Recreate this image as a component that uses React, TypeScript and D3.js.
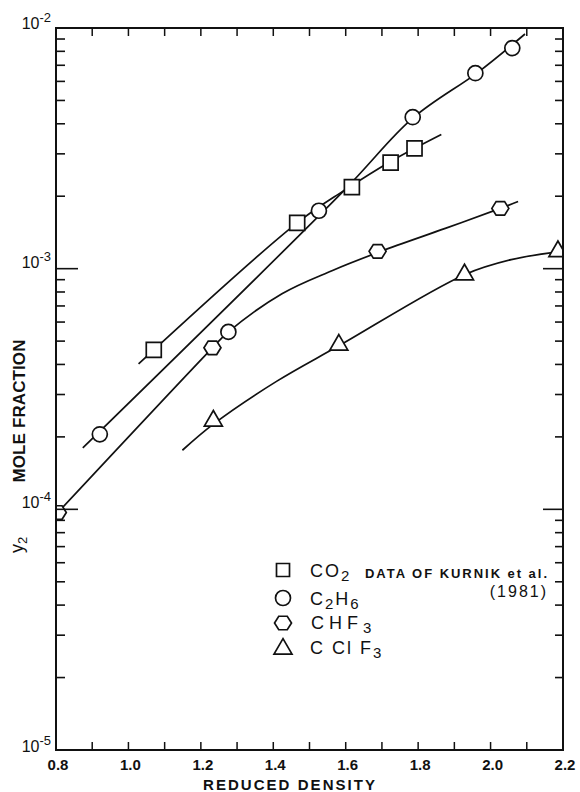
import React from "react";
import * as d3 from "d3";

// solubility of naphthalene-like solute vs reduced density

const co2Density = [1.07, 1.466, 1.617, 1.724, 1.79];
const co2Y = [4.6e-4, 1.55e-3, 2.18e-3, 2.76e-3, 3.16e-3];
const c2h6Density = [0.921, 1.276, 1.526, 1.785, 1.958, 2.06];
const c2h6Y = [2.05e-4, 5.46e-4, 1.74e-3, 4.26e-3, 6.49e-3, 8.25e-3];
const chf3Density = [0.805, 1.232, 1.688, 2.027];
const chf3Y = [9.7e-5, 4.69e-4, 1.18e-3, 1.78e-3];
const cclf3Density = [1.2345, 1.581, 1.928, 2.186];
const cclf3Y = [2.33e-4, 4.82e-4, 9.44e-4, 1.18e-3];

// hand drawn fit curves
const co2FitDensity = [1.028, 1.466, 1.595, 1.724, 1.864];
const co2FitY = [4.02e-4, 1.55e-3, 2.11e-3, 2.79e-3, 3.61e-3];
const c2h6FitDensity = [0.874, 1.595, 1.785, 1.966, 2.095];
const c2h6FitY = [1.8e-4, 2.11e-3, 4.22e-3, 6.56e-3, 9.44e-3];
const chf3FitDensity = [0.805, 1.232, 1.276, 1.424, 1.562, 1.697, 1.875, 2.027, 2.076];
const chf3FitY = [9.7e-5, 4.69e-4, 5.46e-4, 7.87e-4, 9.81e-4, 1.18e-3, 1.47e-3, 1.78e-3, 1.9e-3];
const cclf3FitDensity = [1.149, 1.2345, 1.41, 1.581, 1.928, 2.057, 2.194];
const cclf3FitY = [1.76e-4, 2.26e-4, 3.41e-4, 4.78e-4, 9.44e-4, 1.09e-3, 1.18e-3];

const xTickLabels = ["0.8", "1.0", "1.2", "1.4", "1.6", "1.8", "2.0", "2.2"];
const xMinorTicks = [0.9, 1.0, 1.1, 1.2, 1.3, 1.4, 1.5, 1.6, 1.7, 1.8, 1.9, 2.0, 2.1];
const yDecades = [1e-2, 1e-3, 1e-4, 1e-5];
const yDecadeExp = ["-2", "-3", "-4", "-5"];
const yMajorInner = [1e-3, 1e-4];
const yMinorMult = [2, 3, 4, 5, 6, 7, 8, 9];

const L = 56, R = 563, T = 28, B = 750;

const x = d3.scaleLinear().domain([0.8, 2.2]).range([L, R]);
const y = d3.scaleLog().domain([1e-5, 1e-2]).range([B, T]);

const line = d3
  .line<[number, number]>()
  .x((d) => x(d[0]))
  .y((d) => y(d[1]))
  .curve(d3.curveCatmullRom.alpha(0.5));

function pairs(a: number[], b: number[]): [number, number][] {
  return a.map((v, i) => [v, b[i]]);
}

function symbolPath(shape: string, cx: number, cy: number, s: number) {
  if (shape === "square") {
    const h = s / 2;
    return `M${cx - h},${cy - h}h${s}v${s}h${-s}Z`;
  }
  if (shape === "circle") {
    const r = s / 2;
    return `M${cx - r},${cy}a${r},${r} 0 1,0 ${2 * r},0a${r},${r} 0 1,0 ${-2 * r},0Z`;
  }
  if (shape === "hexagon") {
    const r = s / 2;
    const pts = d3.range(6).map((i) => {
      const a = (Math.PI / 3) * i;
      return [cx + r * Math.cos(a), cy + r * Math.sin(a) * 0.92];
    });
    return "M" + pts.map((p) => p.join(",")).join("L") + "Z";
  }
  // triangle, centred on centroid
  const h = (s * Math.sqrt(3)) / 2;
  return `M${cx},${cy - (2 * h) / 3}L${cx + s / 2},${cy + h / 3}L${cx - s / 2},${cy + h / 3}Z`;
}

const series = [
  { shape: "square", xs: co2Density, ys: co2Y, fx: co2FitDensity, fy: co2FitY, size: 15 },
  { shape: "circle", xs: c2h6Density, ys: c2h6Y, fx: c2h6FitDensity, fy: c2h6FitY, size: 15 },
  { shape: "hexagon", xs: chf3Density, ys: chf3Y, fx: chf3FitDensity, fy: chf3FitY, size: 17 },
  { shape: "triangle", xs: cclf3Density, ys: cclf3Y, fx: cclf3FitDensity, fy: cclf3FitY, size: 18 },
];

const ink = "#111";
const font = "'Liberation Sans', Arial, sans-serif";

export default function App() {
  const minorY: number[] = [];
  [1e-5, 1e-4, 1e-3].forEach((d) => yMinorMult.forEach((m) => minorY.push(d * m)));

  const legendRows = [570, 598, 623, 649];
  const legendShapes = ["square", "circle", "hexagon", "triangle"];
  const legendSize = [13, 15, 17, 18];

  return (
    <svg
      width={580}
      height={792}
      style={{ position: "absolute", left: 0, top: 0, background: "#fff" }}
      fontFamily={font}
    >
      <defs>
        <clipPath id="plot">
          <rect x={L} y={T} width={R - L} height={B - T} />
        </clipPath>
      </defs>

      {/* fitted curves */}
      <g clipPath="url(#plot)" fill="none" stroke={ink} strokeWidth={1.7}>
        {series.map((s, i) => (
          <path key={i} d={line(pairs(s.fx, s.fy)) || ""} />
        ))}
      </g>

      {/* data markers */}
      <g clipPath="url(#plot)" fill="#fff" stroke={ink} strokeWidth={1.7}>
        {series.map((s, i) =>
          s.xs.map((v, j) => (
            <path key={i + "-" + j} d={symbolPath(s.shape, x(v), y(s.ys[j]), s.size)} />
          ))
        )}
      </g>

      {/* frame and ticks */}
      <g stroke={ink} fill="none">
        <rect x={L} y={T} width={R - L} height={B - T} strokeWidth={2} />
        {xMinorTicks.map((t) => (
          <g key={t}>
            <line x1={x(t)} x2={x(t)} y1={B} y2={B - 8} strokeWidth={1.5} />
            <line x1={x(t)} x2={x(t)} y1={T} y2={T + 8} strokeWidth={1.5} />
          </g>
        ))}
        {minorY.map((t) => (
          <g key={t}>
            <line x1={L} x2={L + 9} y1={y(t)} y2={y(t)} strokeWidth={1.6} />
            <line x1={R} x2={R - 8} y1={y(t)} y2={y(t)} strokeWidth={1.6} />
          </g>
        ))}
        {yMajorInner.map((t) => (
          <g key={t}>
            <line x1={L} x2={L + 22} y1={y(t)} y2={y(t)} strokeWidth={1.6} />
            <line x1={R} x2={R - 20} y1={y(t)} y2={y(t)} strokeWidth={1.6} />
          </g>
        ))}
      </g>

      {/* x tick labels */}
      <g fontSize={15} fontWeight="bold" fill={ink} textAnchor="middle">
        {xTickLabels.map((t) => (
          <text key={t} x={x(+t) + 2} y={770}>
            {t}
          </text>
        ))}
      </g>

      {/* y decade labels */}
      <g fill={ink} textAnchor="end">
        {yDecades.map((d, i) => (
          <text key={d} x={51} y={y(d) + (i === 0 ? 1 : i === 3 ? 2 : -1)} fontSize={16}>
            10
            <tspan fontSize={13} dy={-7}>
              {yDecadeExp[i]}
            </tspan>
          </text>
        ))}
      </g>

      {/* axis titles */}
      <text
        x={289}
        y={790}
        textAnchor="middle"
        fontSize={15}
        fontWeight="bold"
        textLength={172}
        lengthAdjust="spacing"
        fill={ink}
      >
        REDUCED DENSITY
      </text>
      <text
        transform="translate(25,411) rotate(-90)"
        textAnchor="middle"
        fontSize={17}
        fontWeight="bold"
        textLength={143}
        lengthAdjust="spacing"
        fill={ink}
      >
        MOLE FRACTION
      </text>
      <text transform="translate(23,553) rotate(-90)" fontSize={18} fill={ink}>
        y
        <tspan fontSize={13} dy={4}>
          2
        </tspan>
      </text>

      {/* legend */}
      <g fill="#fff" stroke={ink} strokeWidth={1.7}>
        {legendShapes.map((s, i) => (
          <path key={s} d={symbolPath(s, 283, legendRows[i], legendSize[i])} />
        ))}
      </g>
      <g fill={ink} fontSize={18} letterSpacing={2}>
        <text x={310} y={legendRows[0] + 7}>
          CO<tspan fontSize={15} dy={4}>2</tspan>
        </text>
        <text x={310} y={legendRows[1] + 7}>
          C<tspan fontSize={15} dy={4}>2</tspan>
          <tspan dy={-4}>H</tspan>
          <tspan fontSize={15} dy={4}>6</tspan>
        </text>
        <text x={311} y={legendRows[2] + 6} letterSpacing={5}>
          CHF<tspan fontSize={15} dy={4} letterSpacing={0}>3</tspan>
        </text>
        <text x={310} y={legendRows[3] + 5} letterSpacing={2}>
          C Cl F<tspan fontSize={15} dy={4}>3</tspan>
        </text>
      </g>
      <text
        x={365}
        y={578}
        fontSize={13}
        fontWeight="bold"
        fill={ink}
        textLength={182}
        lengthAdjust="spacing"
      >
        DATA OF KURNIK et al.
      </text>
      <text x={548} y={597} fontSize={16} fill={ink} textAnchor="end" letterSpacing={2}>
        (1981)
      </text>
    </svg>
  );
}
